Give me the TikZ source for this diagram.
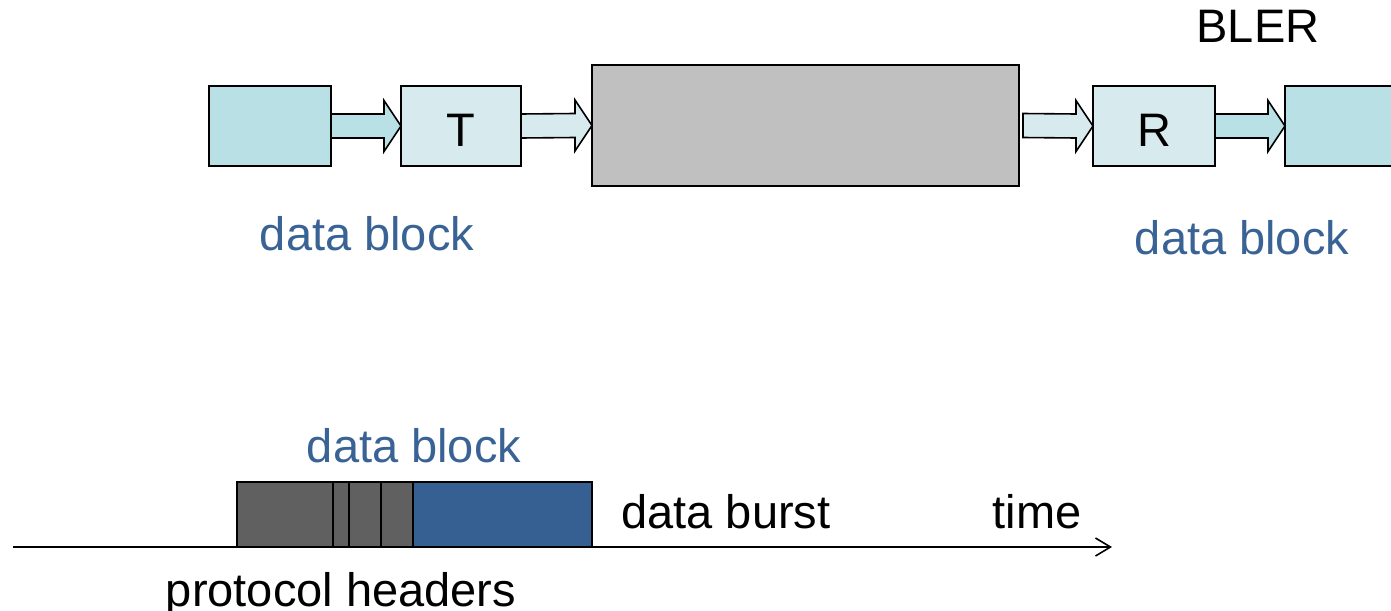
\documentclass[tikz,border=0pt]{standalone}
\usepackage{fontspec}
\setmainfont{Liberation Sans}
\usetikzlibrary{calc,arrows.meta}
\definecolor{tealdark}{RGB}{185,224,228}
\definecolor{teallight}{RGB}{215,235,238}
\definecolor{chgray}{RGB}{192,192,192}
\definecolor{hdrgray}{RGB}{96,96,96}
\definecolor{payblue}{RGB}{53,96,145}
\definecolor{txtblue}{RGB}{58,99,149}
% thick outlined arrow between two boxes: fill, source, target, gap after source
\newcommand\flowarrow[4]{%
  \draw[line width=1.6pt, fill=#1, line join=miter]
    ($(#2.east)+(#4,12)$) -- ($(#3.west)+(-17,12)$) -- ($(#3.west)+(-17,25.5)$)
    -- (#3.west) -- ($(#3.west)+(-17,-25.5)$) -- ($(#3.west)+(-17,-12)$)
    -- ($(#2.east)+(#4,-12)$) -- cycle;}
\begin{document}
\begin{tikzpicture}[x=1pt,y=-1pt,
  every node/.style={font=\fontsize{47}{56}\selectfont},
  blk/.style={draw, line width=1.6pt, rectangle, inner sep=0pt, outer sep=0pt,
    minimum height=80pt, anchor=north west},
  lbl/.style={anchor=base, inner sep=0pt},
  seg/.style={draw, line width=2pt, rectangle, inner sep=0pt, outer sep=0pt,
    minimum height=65pt, anchor=south west}]
\useasboundingbox (0,0) rectangle (1391,610);
\clip (0,0) rectangle (1391,610);

% transmission chain
\node[blk, fill=tealdark, minimum width=122pt] (src) at (209,86) {};
\node[blk, fill=teallight, minimum width=120pt, text height=40pt] (tx) at (401,86) {T};
\node[blk, fill=chgray, minimum width=427pt, minimum height=121pt] (chan) at (592,65) {};
\node[blk, fill=teallight, minimum width=122pt, text height=40pt] (rx) at (1093,86) {R};
\node[blk, fill=tealdark, minimum width=140pt] (sink) at (1285,86) {};

\flowarrow{tealdark}{src}{tx}{0}
\flowarrow{teallight}{tx}{chan}{0}
\flowarrow{teallight}{chan}{rx}{4}
\flowarrow{tealdark}{rx}{sink}{0}

\node[lbl] (bler) at (1258,43) {BLER};
\node[lbl, text=txtblue] (dbl) at (367,250) {data block};
\node[lbl, text=txtblue] (dbr) at (1242,254) {data block};

% data burst on the time axis
\coordinate (t0) at (13,547);
\coordinate (t1) at (1112,547);
\draw[line width=1.6pt, -{Straight Barb[length=15pt,width=18pt,line width=1.6pt]}] (t0) -- (t1);

\node[seg, fill=hdrgray, minimum width=96pt] (h1) at (237,547) {};
\node[seg, fill=hdrgray, minimum width=16pt] (h2) at (333,547) {};
\node[seg, fill=hdrgray, minimum width=32pt] (h3) at (349,547) {};
\node[seg, fill=hdrgray, minimum width=32pt] (h4) at (381,547) {};
\node[seg, fill=payblue, minimum width=179pt] (pay) at (413,547) {};

\node[lbl, text=txtblue] (dbb) at (414,462) {data block};
\node[lbl] (burst) at (726,528) {data burst};
\node[lbl] (time) at (1037,528) {time};
\node[lbl] (hdrs) at (341,606) {protocol headers};
\end{tikzpicture}
\end{document}
